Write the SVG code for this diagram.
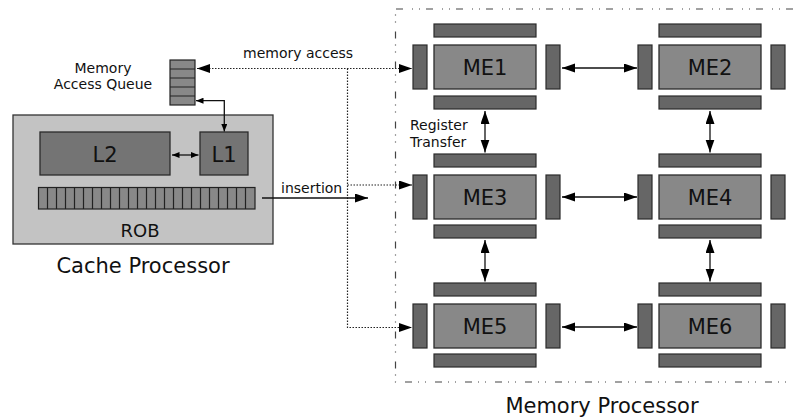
<svg xmlns="http://www.w3.org/2000/svg" width="793" height="418" viewBox="0 0 793 418">
  <style>
    text { font-family: "DejaVu Sans", "Liberation Sans", sans-serif; fill: #111; }
    .frame { fill: #c3c3c3; stroke: #333; stroke-width: 1.3; }
    .cache { fill: #747474; stroke: #2b2b2b; stroke-width: 1.3; }
    .cell { fill: #888; stroke: #222; stroke-width: 1.2; }
    .me { fill: #888; stroke: #2b2b2b; stroke-width: 1.3; }
    .bar { fill: #666; stroke: #2b2b2b; stroke-width: 1.2; }
    .wire { fill: none; stroke: #111; stroke-width: 1.3; }
    .dot { fill: none; stroke: #222; stroke-width: 1.2; stroke-dasharray: 1.5 1.5; }
    .region { fill: none; stroke: #444; stroke-width: 1.2; stroke-dasharray: 7 6 1 6 1 9; }
    .lbl { font-size: 14px; }
    .big { font-size: 21px; }
    .unit { font-size: 21px; text-anchor: middle; }
  </style>
  <defs>
    <marker id="head" markerUnits="userSpaceOnUse" markerWidth="14" markerHeight="10" refX="13" refY="4.5" orient="auto-start-reverse">
      <path d="M0,0 L13,4.5 L0,9 Z" fill="#000"/>
    </marker>
    <marker id="tip" markerUnits="userSpaceOnUse" markerWidth="8" markerHeight="6" refX="7.5" refY="3" orient="auto-start-reverse">
      <path d="M0,0 L7.5,3 L0,6 Z" fill="#000"/>
    </marker>
  </defs>

  <!-- memory processor region -->
  <path class="region" d="M793,9 H395.5 V382 H793"/>

  <!-- cache processor -->
  <g id="cache-processor">
    <rect class="frame" x="13" y="115" width="260" height="129"/>
    <text class="big" x="143" y="273" text-anchor="middle">Cache Processor</text>
  </g>
  <g id="l2">
    <rect class="cache" x="40" y="132" width="130" height="43"/>
    <text class="unit" x="105" y="162">L2</text>
  </g>
  <g id="l1">
    <rect class="cache" x="200" y="132" width="48" height="43"/>
    <text class="unit" x="224" y="162">L1</text>
  </g>
  <g id="rob">
    <rect class="cell" x="38.5" y="187.5" width="216.5" height="21.5"/>
    <path class="cell" fill="none" d="M47.5,187.5V209 M56.5,187.5V209 M65.5,187.5V209 M74.5,187.5V209 M83.5,187.5V209 M92.5,187.5V209 M101.5,187.5V209 M110.5,187.5V209 M119.5,187.5V209 M128.5,187.5V209 M137.5,187.5V209 M146.5,187.5V209 M155.5,187.5V209 M164.5,187.5V209 M173.5,187.5V209 M182.5,187.5V209 M191.5,187.5V209 M200.5,187.5V209 M209.5,187.5V209 M218.5,187.5V209 M227.5,187.5V209 M236.5,187.5V209 M245.5,187.5V209"/>
    <text x="140" y="237" font-size="18" text-anchor="middle">ROB</text>
  </g>
  <g id="memory-access-queue">
    <rect class="cell" x="170" y="60" width="25" height="45"/>
    <path class="cell" d="M170,69H195 M170,78H195 M170,87H195 M170,96H195"/>
    <text class="lbl" x="103" y="73" text-anchor="middle">Memory</text>
    <text class="lbl" x="103" y="89" text-anchor="middle">Access Queue</text>
  </g>

  <!-- memory elements -->
  <g id="me1">
    <rect class="bar" x="434" y="24" width="102" height="13"/>
    <rect class="bar" x="413" y="45" width="14" height="44"/>
    <rect class="me" x="434" y="45" width="102" height="44"/>
    <rect class="bar" x="546" y="45" width="14" height="44"/>
    <rect class="bar" x="434" y="96" width="102" height="13"/>
    <text class="unit" x="485" y="75">ME1</text>
  </g>
  <g id="me2">
    <rect class="bar" x="659" y="24" width="102" height="13"/>
    <rect class="bar" x="638" y="45" width="14" height="44"/>
    <rect class="me" x="659" y="45" width="102" height="44"/>
    <rect class="bar" x="771" y="45" width="14" height="44"/>
    <rect class="bar" x="659" y="96" width="102" height="13"/>
    <text class="unit" x="710" y="75">ME2</text>
  </g>
  <g id="me3">
    <rect class="bar" x="434" y="154" width="102" height="13"/>
    <rect class="bar" x="413" y="175" width="14" height="44"/>
    <rect class="me" x="434" y="175" width="102" height="44"/>
    <rect class="bar" x="546" y="175" width="14" height="44"/>
    <rect class="bar" x="434" y="225" width="102" height="13"/>
    <text class="unit" x="485" y="205">ME3</text>
  </g>
  <g id="me4">
    <rect class="bar" x="659" y="154" width="102" height="13"/>
    <rect class="bar" x="638" y="175" width="14" height="44"/>
    <rect class="me" x="659" y="175" width="102" height="44"/>
    <rect class="bar" x="771" y="175" width="14" height="44"/>
    <rect class="bar" x="659" y="225" width="102" height="13"/>
    <text class="unit" x="710" y="205">ME4</text>
  </g>
  <g id="me5">
    <rect class="bar" x="434" y="283" width="102" height="13"/>
    <rect class="bar" x="413" y="304" width="14" height="44"/>
    <rect class="me" x="434" y="304" width="102" height="44"/>
    <rect class="bar" x="546" y="304" width="14" height="44"/>
    <rect class="bar" x="434" y="354" width="102" height="13"/>
    <text class="unit" x="485" y="334">ME5</text>
  </g>
  <g id="me6">
    <rect class="bar" x="659" y="283" width="102" height="13"/>
    <rect class="bar" x="638" y="304" width="14" height="44"/>
    <rect class="me" x="659" y="304" width="102" height="44"/>
    <rect class="bar" x="771" y="304" width="14" height="44"/>
    <rect class="bar" x="659" y="354" width="102" height="13"/>
    <text class="unit" x="710" y="334">ME6</text>
  </g>

  <text id="memory-processor" class="big" x="602" y="413" text-anchor="middle">Memory Processor</text>

  <!-- connectors -->
  <g id="connectors">
    <path class="dot" d="M197,68.5 H412" marker-start="url(#head)" marker-end="url(#head)"/>
    <path class="dot" d="M347.5,68.5 V327.5 H412" marker-end="url(#head)"/>
    <path class="dot" d="M347.5,185 H412" marker-end="url(#head)"/>
    <path class="wire" d="M262,198 H368" marker-end="url(#head)"/>
    <path class="wire" d="M196,100.7 H224.3 V131.5" marker-start="url(#tip)" marker-end="url(#tip)"/>
    <path class="wire" d="M172,155 H198.5" marker-start="url(#tip)" marker-end="url(#tip)"/>
    <path class="wire" d="M562,68 H637" marker-start="url(#head)" marker-end="url(#head)"/>
    <path class="wire" d="M562,197 H637" marker-start="url(#head)" marker-end="url(#head)"/>
    <path class="wire" d="M562,327 H637" marker-start="url(#head)" marker-end="url(#head)"/>
    <path class="wire" d="M485,111 V152.5" marker-start="url(#head)" marker-end="url(#head)"/>
    <path class="wire" d="M485,240 V281.5" marker-start="url(#head)" marker-end="url(#head)"/>
    <path class="wire" d="M710,111 V152.5" marker-start="url(#head)" marker-end="url(#head)"/>
    <path class="wire" d="M710,240 V281.5" marker-start="url(#head)" marker-end="url(#head)"/>
    <text class="lbl" x="243" y="58">memory access</text>
    <text class="lbl" x="281" y="193">insertion</text>
    <text class="lbl" x="410" y="130">Register</text>
    <text class="lbl" x="410" y="147">Transfer</text>
  </g>
</svg>
